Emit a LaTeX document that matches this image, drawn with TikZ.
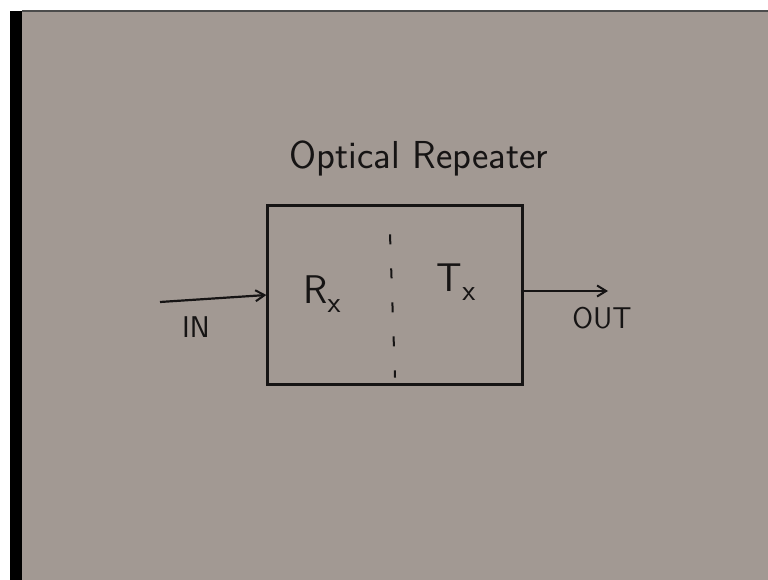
\documentclass[tikz,border=0pt]{standalone}
\usepackage{tikz}
\usetikzlibrary{positioning,calc,arrows.meta}
\definecolor{paper}{RGB}{162,153,147}
\definecolor{ink}{RGB}{22,20,20}
\tikzset{
  pen/.style={draw=ink, line width=2.2pt},
  wire/.style={pen, -{Straight Barb[length=9pt,width=11pt,line width=2pt]}},
  hand/.style={text=ink, font=\sffamily}
}
\newcommand{\lowx}{\raisebox{-9pt}{\fontsize{30}{30}\selectfont x}}

\begin{document}
\begin{tikzpicture}[x=1pt, y=-1pt]
  \useasboundingbox (0,0) rectangle (768,580);
  % paper, board edge
  \fill[white] (0,0) rectangle (768,580);
  \fill[paper] (22,11) rectangle (768,580);
  \fill[black] (10,11) rectangle (22,580);
  \draw[black!70, line width=1.5pt] (22,11) -- (768,11);

  % Title
  \node[hand, font=\sffamily\fontsize{39}{39}\selectfont] (title) at (419,158) {Optical Repeater};

  % Repeater block with dashed divider
  \node[pen, rectangle, minimum width=255pt, minimum height=179pt] (repeater) at (395,295) {};
  \draw[ink, line width=2pt, dash pattern=on 10pt off 24pt] ($(repeater.north)+(-5,30)$) -- ($(repeater.south)+(0,-8)$);
  \node[hand, font=\sffamily\fontsize{40}{40}\selectfont] (rx) at (322,294) {R\lowx};
  \node[hand, font=\sffamily\fontsize{40}{40}\selectfont] (tx) at (456,282) {T\lowx};

  % Input and output lines
  \coordinate (in) at (160,302);
  \coordinate (out) at (608,291);
  \draw[wire] (in) -- (repeater.west |- 0,295);
  \draw[wire] (repeater.east |- 0,291) -- (out);
  \node[hand, font=\sffamily\fontsize{30}{30}\selectfont] (inlabel) at (196,327) {IN};
  \node[hand, font=\sffamily\fontsize{30}{30}\selectfont] (outlabel) at (602,318) {OUT};
\end{tikzpicture}
\end{document}
